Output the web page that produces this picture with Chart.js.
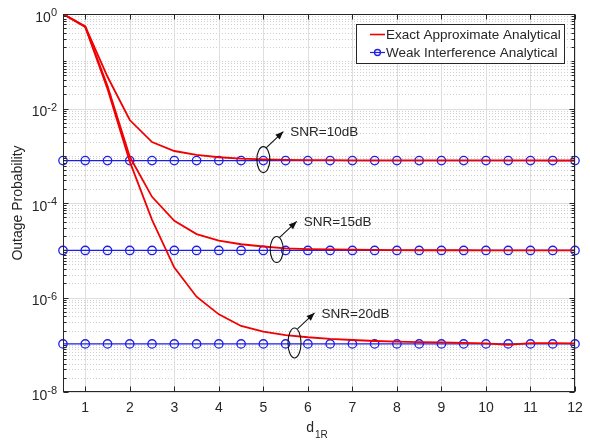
<!DOCTYPE html>
<html><head><meta charset="utf-8">
<script src="https://cdn.jsdelivr.net/npm/chart.js@4/dist/chart.umd.min.js"></script>
<style>html,body{margin:0;padding:0;background:#fff;}#wrap{width:590px;height:440px;}</style>
</head><body><div id="wrap"><canvas id="c" width="590" height="440"></canvas></div>
<script>
// ---- data ----
const d1R = [0.5,1,1.5,2,2.5,3,3.5,4,4.5,5,5.5,6,6.5,7,7.5,8,8.5,9,9.5,10,10.5,11,11.5,12];
const exactSnr10 = [1.0,0.55,0.047,5.7e-3,1.95e-3,1.26e-3,1.04e-3,9.3e-4,8.7e-4,8.35e-4,8.2e-4,8.1e-4,8.05e-4,8.0e-4,8.0e-4,7.98e-4,7.97e-4,7.96e-4,7.96e-4,7.95e-4,7.95e-4,7.95e-4,7.94e-4,7.94e-4];
const exactSnr15 = [1.0,0.54,0.030,9.5e-4,1.35e-4,4.2e-5,2.2e-5,1.6e-5,1.34e-5,1.2e-5,1.1e-5,1.06e-5,1.04e-5,1.03e-5,1.02e-5,1.01e-5,1.0e-5,1.0e-5,1.0e-5,9.95e-6,9.95e-6,9.9e-6,9.9e-6,9.9e-6];
const exactSnr20 = [1.0,0.53,0.026,7.5e-4,4.4e-5,4.3e-6,1.04e-6,4.4e-7,2.5e-7,1.9e-7,1.6e-7,1.44e-7,1.33e-7,1.26e-7,1.2e-7,1.17e-7,1.14e-7,1.12e-7,1.1e-7,1.07e-7,0.99e-7,1.08e-7,1.08e-7,1.07e-7];
const weakSnr10 = [7.9e-4,7.9e-4,7.9e-4,7.9e-4,7.9e-4,7.9e-4,7.9e-4,7.9e-4,7.9e-4,7.9e-4,7.9e-4,7.9e-4,7.9e-4,7.9e-4,7.9e-4,7.9e-4,7.9e-4,7.9e-4,7.9e-4,7.9e-4,7.9e-4,7.9e-4,7.9e-4,7.9e-4];
const weakSnr15 = [9.9e-6,9.9e-6,9.9e-6,9.9e-6,9.9e-6,9.9e-6,9.9e-6,9.9e-6,9.9e-6,9.9e-6,9.9e-6,9.9e-6,9.9e-6,9.9e-6,9.9e-6,9.9e-6,9.9e-6,9.9e-6,9.9e-6,9.9e-6,9.9e-6,9.9e-6,9.9e-6,9.9e-6];
const weakSnr20 = [1.04e-7,1.04e-7,1.04e-7,1.04e-7,1.04e-7,1.04e-7,1.04e-7,1.04e-7,1.04e-7,1.04e-7,1.04e-7,1.04e-7,1.04e-7,1.04e-7,1.04e-7,1.04e-7,1.04e-7,1.04e-7,1.04e-7,1.04e-7,1.04e-7,1.04e-7,1.04e-7,1.04e-7];
const xTicks = [1,2,3,4,5,6,7,8,9,10,11,12];
const yTickExponents = [0,-2,-4,-6,-8];
const legendLabels = ['Exact Approximate Analytical','Weak Interference Analytical'];
const snrLabels = ['SNR=10dB','SNR=15dB','SNR=20dB'];
const snrMarkX = [5.0,5.3,5.7];
const snrMarkY = [7.9e-4,9.9e-6,1.04e-7];
const xTitle = 'd', xTitleSub = '1R';
const yTitle = 'Outage Probability';

// ---- style ----
const RED = '#f00000', BLUE = '#1e1ee6', AX = '#262626';
const FONT = '"Liberation Sans", Arial, Helvetica, sans-serif';
const pts = arr => arr.map((v,i)=>({x:d1R[i], y:v}));
const redDs = (lbl, arr) => ({label:lbl, data:pts(arr), borderColor:RED, borderWidth:1.8, pointRadius:0, tension:0, fill:false, order:0});
const blueDs = (lbl, arr) => ({label:lbl, data:pts(arr), borderColor:BLUE, borderWidth:1.2, pointRadius:4.2, pointStyle:'circle', pointBorderColor:BLUE, pointBackgroundColor:'rgba(0,0,0,0)', pointBorderWidth:1.3, tension:0, fill:false, order:1, clip:false});

const matlabPlugin = {
  id:'matlab',
  beforeDatasetsDraw(chart){
    const {ctx, chartArea:a, scales:{x,y}} = chart;
    ctx.save();
    ctx.lineWidth = 1;
    // minor y grid (dotted)
    ctx.strokeStyle = '#cfcfcf';
    ctx.setLineDash([1,2]);
    for (let e=-8; e<0; e++) for (let m=1; m<10; m++){
      if (m===1 && e%2===0) continue;
      const py = Math.round(y.getPixelForValue(m*Math.pow(10,e)))+0.5;
      ctx.beginPath(); ctx.moveTo(a.left,py); ctx.lineTo(a.right,py); ctx.stroke();
    }
    ctx.setLineDash([]);
    ctx.strokeStyle = '#dedede';
    yTickExponents.forEach(e=>{
      const py = Math.round(y.getPixelForValue(Math.pow(10,e)))+0.5;
      ctx.beginPath(); ctx.moveTo(a.left,py); ctx.lineTo(a.right,py); ctx.stroke();
    });
    xTicks.forEach(t=>{
      const px = Math.round(x.getPixelForValue(t))+0.5;
      ctx.beginPath(); ctx.moveTo(px,a.top); ctx.lineTo(px,a.bottom); ctx.stroke();
    });
    ctx.restore();
  },
  afterDatasetsDraw(chart){
    const {ctx, chartArea:a, scales:{x,y}} = chart;
    ctx.save();
    ctx.strokeStyle = AX; ctx.fillStyle = AX; ctx.lineWidth = 1;
    const L = Math.round(a.left)+0.5, R = Math.round(a.right)-0.5, T = Math.round(a.top)+0.5, B = Math.round(a.bottom)-0.5;
    // ticks
    ctx.beginPath();
    xTicks.forEach(t=>{
      const px = Math.round(x.getPixelForValue(t))+0.5;
      ctx.moveTo(px,B); ctx.lineTo(px,B-5);
      ctx.moveTo(px,T); ctx.lineTo(px,T+5);
    });
    for (let e=-8; e<=0; e++) for (let m=1; m<10; m++){
      if (e===0 && m>1) break;
      const py = Math.round(y.getPixelForValue(m*Math.pow(10,e)))+0.5;
      const len = (m===1 && e%2===0) ? 5 : 3;
      ctx.moveTo(L,py); ctx.lineTo(L+len,py);
      ctx.moveTo(R,py); ctx.lineTo(R-len,py);
    }
    ctx.stroke();
    // box
    ctx.strokeRect(L, T, R-L, B-T);
    // x tick labels
    ctx.font = '14px '+FONT; ctx.textAlign='center'; ctx.textBaseline='middle';
    xTicks.forEach(t=> ctx.fillText(String(t), x.getPixelForValue(t), a.bottom+16));
    // y tick labels
    yTickExponents.forEach(e=>{
      const py = y.getPixelForValue(Math.pow(10,e));
      ctx.font = '11px '+FONT;
      const ew = ctx.measureText(String(e).replace('-','-')).width;
      ctx.textAlign='left'; ctx.textBaseline='middle';
      const expStr = String(e);
      ctx.font = '14px '+FONT;
      const bw = ctx.measureText('10').width;
      const x0 = a.left - 6 - ew - bw;
      ctx.fillText('10', x0, py+4);
      ctx.font = '11px '+FONT;
      ctx.fillText(expStr, x0+bw, py-1);
    });
    // axis titles
    ctx.font = '14px '+FONT; ctx.textBaseline='alphabetic';
    const dw = ctx.measureText(xTitle).width;
    ctx.font = '10px '+FONT;
    const sw = ctx.measureText(xTitleSub).width;
    const cx = (a.left+a.right)/2 - 2;
    const sx = cx - (dw+sw+1)/2;
    ctx.textAlign='left';
    ctx.font = '14px '+FONT; ctx.fillText(xTitle, sx, 432);
    ctx.font = '10px '+FONT; ctx.fillText(xTitleSub, sx+dw+1, 438);
    ctx.save();
    ctx.translate(22,(a.top+a.bottom)/2); ctx.rotate(-Math.PI/2);
    ctx.font = '14px '+FONT; ctx.textAlign='center'; ctx.textBaseline='alphabetic';
    ctx.fillText(yTitle,0,0);
    ctx.restore();
    // annotations
    ctx.strokeStyle = '#111'; ctx.fillStyle='#111'; ctx.lineWidth=1.1;
    const rys = [13,13,15];
    snrLabels.forEach((lbl,i)=>{
      const ex = x.getPixelForValue(snrMarkX[i]);
      const ey = y.getPixelForValue(snrMarkY[i]) - 1;
      const ry = rys[i];
      ctx.beginPath(); ctx.ellipse(ex, ey, 6.5, ry, 0, 0, Math.PI*2); ctx.stroke();
      const x1 = ex+3, y1 = ey-ry+1, x2 = ex+20, y2 = ey-ry-15;
      ctx.beginPath(); ctx.moveTo(x1,y1); ctx.lineTo(x2,y2); ctx.stroke();
      const ang = Math.atan2(y2-y1,x2-x1), hl=8, hw=3.2;
      ctx.beginPath();
      ctx.moveTo(x2,y2);
      ctx.lineTo(x2-hl*Math.cos(ang)+hw*Math.sin(ang), y2-hl*Math.sin(ang)-hw*Math.cos(ang));
      ctx.lineTo(x2-hl*Math.cos(ang)-hw*Math.sin(ang), y2-hl*Math.sin(ang)+hw*Math.cos(ang));
      ctx.closePath(); ctx.fill();
      ctx.fillStyle = AX;
      ctx.font = '13.5px '+FONT; ctx.textAlign='left'; ctx.textBaseline='middle';
      ctx.fillText(lbl, ex+27, y2+1);
      ctx.fillStyle='#111';
    });
    // legend
    const lx = 356.5, ly = 24.5, lw = 208, lh = 39;
    ctx.fillStyle='#fff'; ctx.fillRect(lx,ly,lw,lh);
    ctx.strokeStyle = AX; ctx.lineWidth=1; ctx.strokeRect(lx,ly,lw,lh);
    const rows = [ly+10, ly+28];
    ctx.font = '13.5px '+FONT; ctx.textAlign='left'; ctx.textBaseline='middle';
    legendLabels.forEach((lbl,i)=>{
      const ry = rows[i];
      const col = i===0 ? RED : BLUE;
      ctx.strokeStyle = col; ctx.lineWidth = i===0?1.6:1.2;
      ctx.beginPath(); ctx.moveTo(370, ry); ctx.lineTo(385, ry); ctx.stroke();
      if (i===1){ ctx.lineWidth=1.3; ctx.beginPath(); ctx.arc(377.5, ry, 3, 0, Math.PI*2); ctx.stroke(); }
      ctx.fillStyle = AX; ctx.fillText(lbl, 386, ry+0.5);
    });
    ctx.restore();
  }
};

new Chart(document.getElementById('c'), {
  type:'line',
  data:{ datasets:[
    redDs(legendLabels[0]+' 10', exactSnr10),
    redDs(legendLabels[0]+' 15', exactSnr15),
    redDs(legendLabels[0]+' 20', exactSnr20),
    blueDs(legendLabels[1]+' 10', weakSnr10),
    blueDs(legendLabels[1]+' 15', weakSnr15),
    blueDs(legendLabels[1]+' 20', weakSnr20)
  ]},
  options:{
    responsive:false, animation:false, devicePixelRatio:1,
    layout:{ padding:{left:63, top:14, right:15, bottom:48} },
    plugins:{ legend:{display:false}, tooltip:{enabled:false} },
    scales:{
      x:{ type:'linear', min:0.5, max:12, display:false },
      y:{ type:'logarithmic', min:1e-8, max:1, display:false }
    }
  },
  plugins:[matlabPlugin]
});
</script></body></html>
